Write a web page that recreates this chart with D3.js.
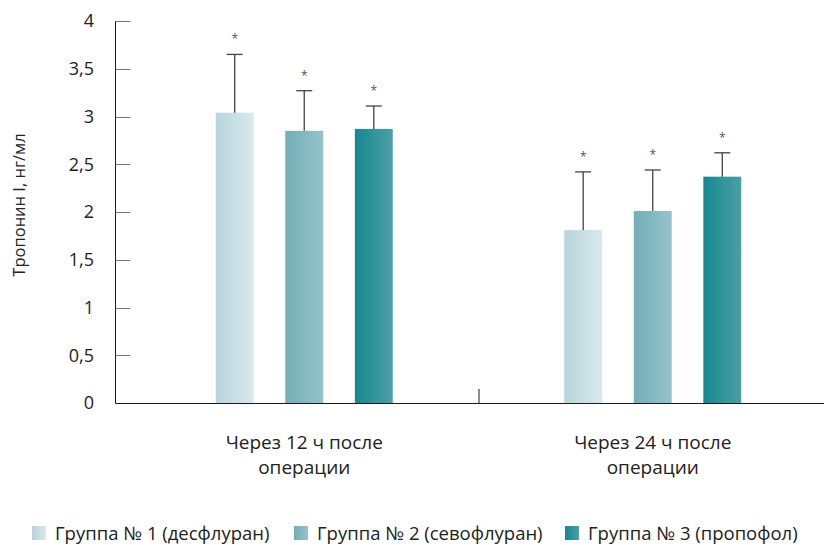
<!DOCTYPE html>
<html>
<head>
<meta charset="utf-8">
<script src="https://cdn.jsdelivr.net/npm/d3@7"></script>
<style>
  body { margin: 0; background: #fff; }
  svg { display: block; font-family: "Open Sans", "Noto Sans", sans-serif; }
</style>
</head>
<body>
<svg id="chart" width="824" height="545"></svg>
<script>
// Troponin I after surgery, by anaesthesia group
const categories = ["Через 12 ч после операции", "Через 24 ч после операции"];
const groups = ["Группа № 1 (десфлуран)", "Группа № 2 (севофлуран)", "Группа № 3 (пропофол)"];
const means = [
  [3.04, 2.85, 2.87],
  [1.81, 2.01, 2.37]
];
const upperErr = [
  [3.65, 3.27, 3.11],
  [2.42, 2.44, 2.62]
];
const yTicks = [0, 0.5, 1, 1.5, 2, 2.5, 3, 3.5, 4];
const yTitle = "Тропонин I, нг/мл";

const gradStops = [
  ["#b7d5db", "#d9e9ec"],
  ["#72afb8", "#96c2c9"],
  ["#168890", "#4c9fa5"]
];

const svg = d3.select("#chart");
const defs = svg.append("defs");
gradStops.forEach((s, i) => {
  const g = defs.append("linearGradient").attr("id", "g" + i)
    .attr("x1", "0%").attr("x2", "100%").attr("y1", "0%").attr("y2", "0%");
  g.append("stop").attr("offset", "0%").attr("stop-color", s[0]);
  g.append("stop").attr("offset", "100%").attr("stop-color", s[1]);
});

const y = d3.scaleLinear().domain([0, 4]).range([403, 21]);
const x0 = d3.scaleBand().domain(categories).range([130, 827]).padding(0);
const x1 = d3.scaleBand().domain(d3.range(groups.length)).range([0, 177]).paddingInner(0.455);
const groupOffset = (x0.bandwidth() - 177) / 2;

// y axis: line with inward ticks
const axisX = 115.5;
svg.append("line").attr("x1", axisX).attr("x2", axisX)
  .attr("y1", y(4)).attr("y2", y(0)).attr("stroke", "#1a1a1a").attr("stroke-width", 1);
svg.selectAll(".ytick").data(yTicks).enter().append("line")
  .attr("x1", axisX).attr("x2", axisX + 15)
  .attr("y1", d => Math.round(y(d)) + 0.5).attr("y2", d => Math.round(y(d)) + 0.5)
  .attr("stroke", "#777").attr("stroke-width", 1);
svg.selectAll(".ylab").data(yTicks).enter().append("text")
  .attr("x", 94).attr("y", d => y(d)).attr("dy", "0.36em")
  .attr("text-anchor", "end").attr("font-size", 18).attr("fill", "#222")
  .text(d => d3.format("")(d).replace(".", ","));

// x baseline and separator tick
svg.append("line").attr("x1", axisX).attr("x2", 824)
  .attr("y1", y(0) + 0.5).attr("y2", y(0) + 0.5).attr("stroke", "#1a1a1a");
svg.append("line").attr("x1", x0(categories[1]) + 0.5).attr("x2", x0(categories[1]) + 0.5)
  .attr("y1", y(0) - 14).attr("y2", y(0)).attr("stroke", "#1a1a1a");

// bars, error bars, significance marks
categories.forEach((c, ci) => {
  const gx = x0(c) + groupOffset;
  means[ci].forEach((v, gi) => {
    const bx = gx + x1(gi);
    const cx = bx + x1.bandwidth() / 2;
    svg.append("rect").attr("x", bx).attr("width", x1.bandwidth())
      .attr("y", y(v)).attr("height", y(0) - y(v)).attr("fill", "url(#g" + gi + ")");
    const top = y(upperErr[ci][gi]);
    svg.append("line").attr("x1", cx).attr("x2", cx).attr("y1", y(v)).attr("y2", top)
      .attr("stroke", "#444").attr("stroke-width", 1.3);
    svg.append("line").attr("x1", cx - 8).attr("x2", cx + 8).attr("y1", top).attr("y2", top)
      .attr("stroke", "#444").attr("stroke-width", 1.3);
    svg.append("text").attr("x", cx).attr("y", top - 11)
      .attr("text-anchor", "middle").attr("font-size", 12).attr("fill", "#555").text("*");
  });
  // category label in two lines
  const words = c.split(" ");
  const lines = [words.slice(0, 4).join(" "), words.slice(4).join(" ")];
  lines.forEach((t, li) => {
    svg.append("text").attr("x", x0(c) + x0.bandwidth() / 2).attr("y", 449 + li * 24.5)
      .attr("text-anchor", "middle").attr("font-size", 19).attr("fill", "#222").text(t);
  });
});

// y axis title
svg.append("text").attr("transform", "translate(25,205) rotate(-90)")
  .attr("text-anchor", "middle").attr("font-size", 16.5).attr("fill", "#222").text(yTitle);

// legend
const legendX = [32, 294, 565];
groups.forEach((g, gi) => {
  svg.append("rect").attr("x", legendX[gi]).attr("y", 526).attr("width", 14).attr("height", 14)
    .attr("fill", "url(#g" + gi + ")");
  svg.append("text").attr("x", legendX[gi] + 23).attr("y", 540)
    .attr("font-size", 18.5).attr("fill", "#222").text(g);
});
</script>
</body>
</html>
